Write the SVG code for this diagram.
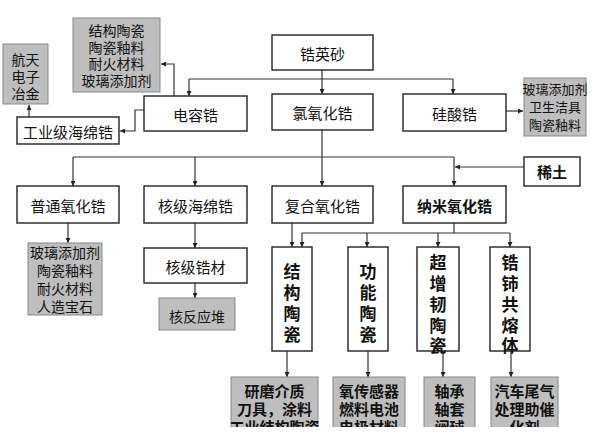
<svg xmlns="http://www.w3.org/2000/svg" width="597" height="435" viewBox="0 0 597 435">
<style>
text{font-family:"Noto Sans CJK SC","Liberation Sans",sans-serif;fill:#111;text-anchor:middle;dominant-baseline:central}
.box{fill:#fff;stroke:#222;stroke-width:1.4}
.gbox{fill:#bebebe;stroke:#888;stroke-width:1}
.t15{font-size:15px}
.t14{font-size:14px}
.t13{font-size:13px}
.vb{font-size:17px;font-weight:bold}
.bb{font-size:15px;font-weight:bold}
.c{fill:none;stroke:#333;stroke-width:1.2;marker-end:url(#ah)}
.l{fill:none;stroke:#333;stroke-width:1.2}
</style>
<defs>
<marker id="ah" viewBox="0 0 8 8" refX="8" refY="4" markerWidth="5" markerHeight="5" orient="auto" markerUnits="userSpaceOnUse">
<path d="M0,0 L8,4 L0,8 z" fill="#222"/>
</marker>
<clipPath id="cut"><rect x="0" y="0" width="597" height="427"/></clipPath>
</defs>
<rect width="597" height="435" fill="#fff"/>

<g id="connectors">
<path class="c" d="M322,70 V94"/>
<path class="l" d="M189,79 H453"/>
<path class="c" d="M189,79 V96"/>
<path class="c" d="M453,79 V94"/>
<path class="c" d="M174,96 V64 H161"/>
<path class="c" d="M144,110 H135 V131 H120"/>
<path class="c" d="M29,117 V105"/>
<path class="c" d="M506,111 H523"/>
<path class="c" d="M322,130 V186"/>
<path class="l" d="M73,157 H454"/>
<path class="c" d="M73,157 V186"/>
<path class="c" d="M195,157 V186"/>
<path class="c" d="M454,157 V186"/>
<path class="c" d="M524,167 H455"/>
<path class="c" d="M68,223 V243"/>
<path class="c" d="M195,223 V248"/>
<path class="c" d="M195,283 V298"/>
<path class="c" d="M292,223 V247"/>
<path class="l" d="M454,223 V233 M302,233 H510"/>
<path class="c" d="M302,233 V247"/>
<path class="c" d="M367,233 V247"/>
<path class="c" d="M438,233 V247"/>
<path class="c" d="M510,233 V247"/>
<path class="c" d="M287,351 V377"/>
<path class="c" d="M368,351 V377"/>
<path class="c" d="M443,351 V377"/>
<path class="c" d="M511,351 V377"/>
</g>

<g id="n-zys"><rect class="box" x="272" y="35" width="101" height="35"/><text class="t15" x="322.5" y="53">锆英砂</text></g>
<g id="n-drg"><rect class="box" x="144" y="96" width="103" height="35"/><text class="t15" x="195.5" y="114">电容锆</text></g>
<g id="n-lyhg"><rect class="box" x="272" y="94" width="101" height="36"/><text class="t15" x="322.5" y="112">氯氧化锆</text></g>
<g id="n-ssg"><rect class="box" x="403" y="94" width="103" height="37"/><text class="t15" x="454.5" y="113">硅酸锆</text></g>
<g id="n-gyhmg"><rect class="box" x="17" y="117" width="102" height="27"/><text class="t15" x="68" y="131">工业级海绵锆</text></g>
<g id="n-htdz"><rect class="gbox" x="3" y="44" width="45" height="60"/><text class="t14" x="25.5" y="59">航天</text><text class="t14" x="25.5" y="76">电子</text><text class="t14" x="25.5" y="93">冶金</text></g>
<g id="n-jgtc1"><rect class="gbox" x="73" y="18" width="87" height="74"/><text class="t14" x="116.5" y="30">结构陶瓷</text><text class="t14" x="116.5" y="47">陶瓷釉料</text><text class="t14" x="116.5" y="63">耐火材料</text><text class="t14" x="116.5" y="80">玻璃添加剂</text></g>
<g id="n-bltj"><rect class="gbox" x="524" y="78" width="62" height="58"/><text class="t13" x="555" y="88">玻璃添加剂</text><text class="t13" x="555" y="106">卫生洁具</text><text class="t13" x="555" y="124">陶瓷釉料</text></g>
<g id="n-xt"><rect class="box" x="524" y="157" width="56" height="29"/><text class="t15" x="552" y="171" style="font-weight:bold">稀土</text></g>
<g id="n-ptyhg"><rect class="box" x="17" y="186" width="102" height="37"/><text class="t15" x="68" y="205">普通氧化锆</text></g>
<g id="n-hjhmg"><rect class="box" x="144" y="186" width="103" height="37"/><text class="t15" x="195.5" y="205">核级海绵锆</text></g>
<g id="n-fhyhg"><rect class="box" x="272" y="186" width="101" height="37"/><text class="t15" x="322.5" y="205">复合氧化锆</text></g>
<g id="n-nmyhg"><rect class="box" x="403" y="186" width="103" height="37"/><text class="t15" x="454.5" y="205" style="font-weight:bold">纳米氧化锆</text></g>
<g id="n-bl2"><rect class="gbox" x="28" y="243" width="74" height="72"/><text class="t14" x="65" y="252">玻璃添加剂</text><text class="t14" x="65" y="270">陶瓷釉料</text><text class="t14" x="65" y="288">耐火材料</text><text class="t14" x="65" y="306">人造宝石</text></g>
<g id="n-hjgc"><rect class="box" x="144" y="248" width="103" height="35"/><text class="t15" x="195.5" y="266">核级锆材</text></g>
<g id="n-hfyd"><rect class="gbox" x="159" y="298" width="76" height="32"/><text class="t14" x="197" y="316">核反应堆</text></g>
<g id="n-jgtc"><rect class="box" x="272" y="247" width="40" height="104"/><text class="vb" x="292" y="270">结</text><text class="vb" x="292" y="291">构</text><text class="vb" x="292" y="312">陶</text><text class="vb" x="292" y="333">瓷</text></g>
<g id="n-gntc"><rect class="box" x="348" y="247" width="40" height="104"/><text class="vb" x="368" y="270">功</text><text class="vb" x="368" y="291">能</text><text class="vb" x="368" y="312">陶</text><text class="vb" x="368" y="333">瓷</text></g>
<g id="n-czrtc"><rect class="box" x="417" y="247" width="42" height="104"/><text class="vb" x="438" y="261">超</text><text class="vb" x="438" y="282">增</text><text class="vb" x="438" y="303">韧</text><text class="vb" x="438" y="324">陶</text><text class="vb" x="438" y="344">瓷</text></g>
<g id="n-gsgrt"><rect class="box" x="490" y="247" width="40" height="104"/><text class="vb" x="510" y="261">锆</text><text class="vb" x="510" y="282">铈</text><text class="vb" x="510" y="303">共</text><text class="vb" x="510" y="324">熔</text><text class="vb" x="510" y="344">体</text></g>
<g clip-path="url(#cut)">
<g id="n-ymjz"><rect class="gbox" x="231" y="377" width="87" height="60"/><text class="bb" x="274.5" y="390">研磨介质</text><text class="bb" x="274.5" y="408">刀具，涂料</text><text class="bb" x="274.5" y="426">工业结构陶瓷</text></g>
<g id="n-ycgq"><rect class="gbox" x="333" y="377" width="72" height="60"/><text class="bb" x="369" y="390">氧传感器</text><text class="bb" x="369" y="408">燃料电池</text><text class="bb" x="369" y="426">电极材料</text></g>
<g id="n-zc"><rect class="gbox" x="424" y="377" width="51" height="60"/><text class="bb" x="449.5" y="390">轴承</text><text class="bb" x="449.5" y="408">轴套</text><text class="bb" x="449.5" y="426">阀球</text></g>
<g id="n-qcwq"><rect class="gbox" x="491" y="377" width="67" height="60"/><text class="bb" x="524.5" y="390">汽车尾气</text><text class="bb" x="524.5" y="408">处理助催</text><text class="bb" x="524.5" y="426">化剂</text></g>
</g>
</svg>
